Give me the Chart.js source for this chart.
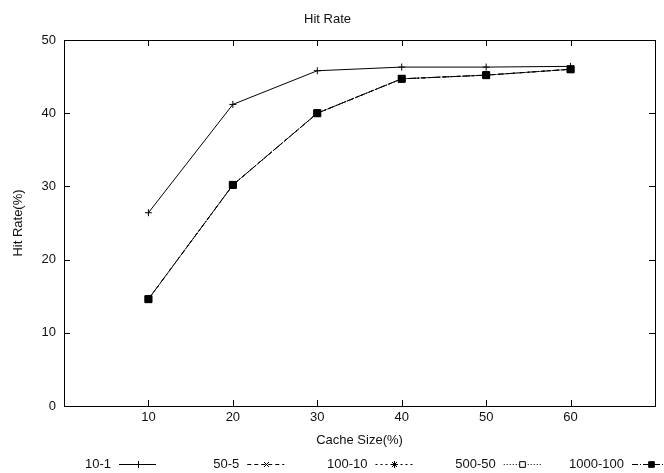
<!DOCTYPE html>
<html>
<head>
<meta charset="utf-8">
<title>Hit Rate</title>
<script src="https://cdn.jsdelivr.net/npm/chart.js@4.4.1/dist/chart.umd.min.js"></script>
<style>
  html, body { margin: 0; padding: 0; background: #fff; }
  #graficoHit { display: block; }
</style>
</head>
<body>
<canvas id="graficoHit" width="664" height="473"></canvas>
<script>
// data
const cacheSizes = [10, 20, 30, 40, 50, 60];
const xTicks = [10, 20, 30, 40, 50, 60];
const yTicks = [0, 10, 20, 30, 40, 50];
const seriesNames = ['10-1', '50-5', '100-10', '500-50', '1000-100'];

const hit10_1 = [26.4, 41.2, 45.8, 46.3, 46.3, 46.4];
const hit50_5 = [14.6, 30.2, 40.0, 44.7, 45.2, 46.0];
const hit100_10 = [14.6, 30.2, 40.0, 44.7, 45.2, 46.0];
const hit500_50 = [14.6, 30.2, 40.0, 44.7, 45.2, 46.0];
const hit1000_100 = [14.6, 30.2, 40.0, 44.7, 45.2, 46.0];

const fonte = '"Liberation Sans", Arial, Helvetica, sans-serif';
Chart.defaults.font.family = fonte;
Chart.defaults.font.size = 13;
Chart.defaults.color = '#111';

function pontos(valores) {
  return cacheSizes.map((x, i) => ({ x: x, y: valores[i] }));
}

// box round the plot plus gnuplot style inward ticks
const caixaPlugin = {
  id: 'caixa',
  afterDraw(chart) {
    const { ctx, chartArea: a } = chart;
    const xs = chart.scales.x;
    const ys = chart.scales.y;
    const tam = 6;
    ctx.save();
    ctx.strokeStyle = '#000';
    ctx.lineWidth = 1;
    ctx.setLineDash([]);
    ctx.strokeRect(Math.round(a.left) + 0.5, Math.round(a.top) + 0.5,
      Math.round(a.right - a.left), Math.round(a.bottom - a.top));
    ctx.beginPath();
    yTicks.forEach(v => {
      const y = Math.round(ys.getPixelForValue(v)) + 0.5;
      ctx.moveTo(a.left, y); ctx.lineTo(a.left + tam, y);
      ctx.moveTo(a.right, y); ctx.lineTo(a.right - tam, y);
    });
    xTicks.forEach(v => {
      const x = Math.round(xs.getPixelForValue(v)) + 0.5;
      ctx.moveTo(x, a.bottom); ctx.lineTo(x, a.bottom - tam);
      ctx.moveTo(x, a.top); ctx.lineTo(x, a.top + tam);
    });
    ctx.stroke();
    ctx.restore();
  }
};

// key below the plot: label then line sample with marker
const chavePlugin = {
  id: 'chave',
  afterDraw(chart) {
    const ctx = chart.ctx;
    ctx.save();
    ctx.font = '13px ' + fonte;
    ctx.textAlign = 'right';
    ctx.textBaseline = 'middle';
    chart.data.datasets.forEach((ds, i) => {
      const direita = 111 + i * 128.25;
      const y = 464;
      ctx.fillStyle = '#111';
      ctx.fillText(ds.label, direita, y);
      const x0 = direita + 8;
      const x1 = x0 + 37;
      ctx.strokeStyle = '#000';
      ctx.lineWidth = 1;
      ctx.setLineDash(ds.borderDash || []);
      ctx.beginPath();
      ctx.moveTo(x0, y + 0.5);
      ctx.lineTo(x1, y + 0.5);
      ctx.stroke();
      ctx.setLineDash([]);
      ctx.fillStyle = ds.pointBackgroundColor;
      Chart.helpers.drawPoint(ctx, {
        pointStyle: ds.pointStyle,
        radius: ds.pointStyle === 'rect' ? 4 : ds.pointRadius,
        rotation: 0,
        borderWidth: 1
      }, Math.round((x0 + x1) / 2) + 0.5, y + 0.5);
    });
    ctx.restore();
  }
};

function geraGraficoHit() {
  const canva = document.getElementById('graficoHit');

  new Chart(canva, {
    type: 'line',
    data: {
      datasets: [
        {
          label: seriesNames[0], data: pontos(hit10_1), order: 0,
          borderColor: '#000', borderWidth: 1, borderDash: [],
          pointStyle: 'cross', pointRadius: 3.5, pointBorderWidth: 1,
          pointBorderColor: '#000', pointBackgroundColor: '#000'
        },
        {
          label: seriesNames[1], data: pontos(hit50_5), order: 4,
          borderColor: '#000', borderWidth: 1, borderDash: [4, 3],
          pointStyle: 'crossRot', pointRadius: 3.5, pointBorderWidth: 1,
          pointBorderColor: '#000', pointBackgroundColor: '#000'
        },
        {
          label: seriesNames[2], data: pontos(hit100_10), order: 3,
          borderColor: '#000', borderWidth: 1, borderDash: [2, 3],
          pointStyle: 'star', pointRadius: 3.5, pointBorderWidth: 1,
          pointBorderColor: '#000', pointBackgroundColor: '#000'
        },
        {
          label: seriesNames[3], data: pontos(hit500_50), order: 2,
          borderColor: '#000', borderWidth: 1, borderDash: [1, 2],
          pointStyle: 'rect', pointRadius: 4.5, pointBorderWidth: 1,
          pointBorderColor: '#000', pointBackgroundColor: '#fff'
        },
        {
          label: seriesNames[4], data: pontos(hit1000_100), order: 1,
          borderColor: '#000', borderWidth: 1, borderDash: [6, 2, 1, 2],
          pointStyle: 'rect', pointRadius: 5, pointBorderWidth: 1,
          pointBorderColor: '#000', pointBackgroundColor: '#000'
        }
      ]
    },
    options: {
      responsive: false,
      devicePixelRatio: 1,
      animation: false,
      layout: { padding: { left: 0, right: 9, top: 0, bottom: 0 } },
      plugins: {
        legend: { display: false },
        tooltip: { enabled: false },
        title: {
          display: true,
          text: 'Hit Rate',
          color: '#111',
          font: { size: 13, weight: 'normal' },
          padding: { top: 12, bottom: 12.4 }
        }
      },
      scales: {
        x: {
          type: 'linear',
          min: 0,
          max: 70,
          afterFit(scale) { scale.height = 67; },
          afterBuildTicks(scale) { scale.ticks = xTicks.map(v => ({ value: v })); },
          ticks: { padding: 4, maxRotation: 0, autoSkip: false, color: '#111' },
          grid: { display: false, drawTicks: false },
          border: { display: false },
          title: {
            display: true,
            text: 'Cache Size(%)',
            color: '#111',
            font: { size: 13 },
            padding: { top: 0, bottom: 25 }
          }
        },
        y: {
          type: 'linear',
          min: 0,
          max: 50,
          afterFit(scale) { scale.width = 64; },
          afterBuildTicks(scale) { scale.ticks = yTicks.map(v => ({ value: v })); },
          ticks: { padding: 8, color: '#111' },
          grid: { display: false, drawTicks: false },
          border: { display: false },
          title: {
            display: true,
            text: 'Hit Rate(%)',
            color: '#111',
            font: { size: 13 },
            padding: { top: 11, bottom: 0 }
          }
        }
      }
    },
    plugins: [caixaPlugin, chavePlugin]
  });
}

geraGraficoHit();
</script>
</body>
</html>
